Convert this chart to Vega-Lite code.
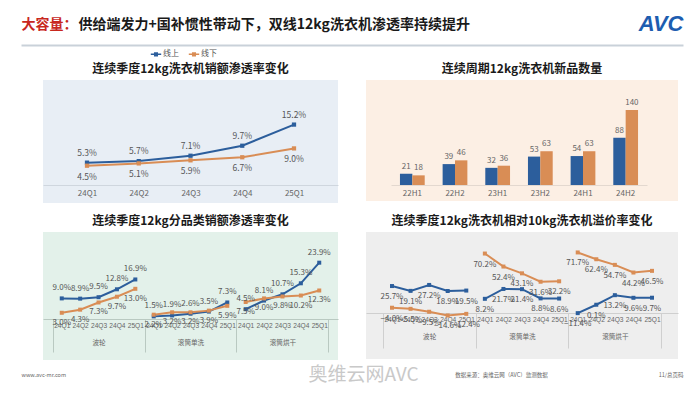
{
  "$schema": "https://vega.github.io/schema/vega-lite/v6.json",
  "background": "white",
  "padding": {"left": 18, "top": 12, "right": 5, "bottom": 2},
  "spacing": 5,
  "config": {
    "font": "Noto Sans CJK SC",
    "view": {"stroke": null},
    "axis": {"grid": false, "ticks": false, "labelColor": "#666666", "labelFontSize": 8, "domainColor": "#d3d7db", "title": null},
    "title": {"fontSize": 12, "fontWeight": "bold", "color": "#1a1a1a", "anchor": "middle", "frame": "group", "offset": 4},
    "legend": {"labelFontSize": 8, "labelColor": "#555555", "title": null, "orient": "none", "direction": "horizontal", "columnPadding": 10, "labelOffset": 3, "padding": 0}
  },
  "vconcat": [
    {
      "width": 640,
      "height": 10,
      "data": {"values": [{"v": 0}, {"v": 1}]},
      "mark": {"type": "point", "opacity": 0},
      "encoding": {
        "x": {
          "field": "v", "type": "quantitative",
          "scale": {"domain": [0, 1], "range": [-22, 640], "nice": false, "zero": false},
          "axis": {
            "orient": "top", "values": [1], "labelExpr": "'AVC'", "labelAlign": "right",
            "labelFontSize": 22, "labelFontWeight": "bold", "labelFontStyle": "italic", "labelFont": "Liberation Sans",
            "labelColor": "#1d5db0", "labelPadding": 10, "labelFlush": false,
            "domainColor": "#c9d1d9", "domainWidth": 2, "ticks": false,
            "title": "大容量：", "titleColor": "#c8281e", "titleFontSize": 14, "titleFontWeight": "bold",
            "titleX": -22, "titleY": -17, "titleAlign": "left", "titleBaseline": "alphabetic"
          }
        },
        "y": {
          "field": "v", "type": "quantitative",
          "axis": {
            "domain": false, "labels": false, "ticks": false,
            "title": "供给端发力+国补惯性带动下，双线12kg洗衣机渗透率持续提升",
            "titleAngle": 0, "titleX": 35, "titleY": -17, "titleAlign": "left", "titleBaseline": "alphabetic",
            "titleFontSize": 14, "titleFontWeight": "bold", "titleColor": "#1a1a1a"
          }
        }
      }
    },
    {
      "spacing": 12,
      "vconcat": [
        {
          "spacing": 28,
          "hconcat": [
            {
              "width": 295,
              "height": 123,
              "title": "连续季度12kg洗衣机销额渗透率变化",
              "view": {"fill": "#e8eef5"},
              "data": {"values": [
                {"q": "24Q1", "ch": "线上", "v": 0.053}, {"q": "24Q1", "ch": "线下", "v": 0.045},
                {"q": "24Q2", "ch": "线上", "v": 0.057}, {"q": "24Q2", "ch": "线下", "v": 0.051},
                {"q": "24Q3", "ch": "线上", "v": 0.071}, {"q": "24Q3", "ch": "线下", "v": 0.059},
                {"q": "24Q4", "ch": "线上", "v": 0.097}, {"q": "24Q4", "ch": "线下", "v": 0.067},
                {"q": "25Q1", "ch": "线上", "v": 0.152}, {"q": "25Q1", "ch": "线下", "v": 0.090}
              ]},
              "encoding": {
                "x": {"field": "q", "type": "nominal", "sort": null, "scale": {"type": "point", "padding": 0.85},
                      "axis": {"orient": "bottom", "offset": -18, "labelAngle": 0, "labelPadding": 4, "domainColor": "#cfd6de"}},
                "y": {"field": "v", "type": "quantitative", "scale": {"domain": [-0.052, 0.268], "nice": false, "zero": false}, "axis": null}
              },
              "layer": [
                {
                  "mark": {"type": "line", "strokeWidth": 2, "point": {"shape": "square", "size": 18, "filled": true}},
                  "encoding": {
                    "color": {"field": "ch", "type": "nominal", "scale": {"domain": ["线上", "线下"], "range": ["#2c5e9c", "#d98d55"]},
                      "legend": {"legendX": 108, "legendY": 4, "symbolType": "M-1.3,0H1.3M-0.32,-0.32H0.32V0.32H-0.32Z", "symbolSize": 64, "symbolStrokeWidth": 1.5,
                        "encode": {"symbols": {"update": {"fill": {"scale": "color", "field": "value"}}}}}}
                  }
                },
                {
                  "transform": [{"filter": "datum.ch === '线上'"}],
                  "mark": {"type": "text", "dy": -10, "fontSize": 8.5, "color": "#555555"},
                  "encoding": {"text": {"field": "v", "format": ".1%"}}
                },
                {
                  "transform": [{"filter": "datum.ch === '线下'"}],
                  "mark": {"type": "text", "dy": 11, "fontSize": 8.5, "color": "#555555"},
                  "encoding": {"text": {"field": "v", "format": ".1%"}}
                }
              ]
            },
            {
              "width": 312,
              "height": 121,
              "title": "连续周期12kg洗衣机新品数量",
              "view": {"fill": "#fcefe4"},
              "data": {"values": [
                {"p": "22H1", "ch": "线上", "n": 21}, {"p": "22H1", "ch": "线下", "n": 18},
                {"p": "22H2", "ch": "线上", "n": 39}, {"p": "22H2", "ch": "线下", "n": 46},
                {"p": "23H1", "ch": "线上", "n": 32}, {"p": "23H1", "ch": "线下", "n": 36},
                {"p": "23H2", "ch": "线上", "n": 53}, {"p": "23H2", "ch": "线下", "n": 63},
                {"p": "24H1", "ch": "线上", "n": 54}, {"p": "24H1", "ch": "线下", "n": 63},
                {"p": "24H2", "ch": "线上", "n": 88}, {"p": "24H2", "ch": "线下", "n": 140}
              ]},
              "encoding": {
                "x": {"field": "p", "type": "nominal", "sort": null,
                      "scale": {"range": [25, 281], "paddingInner": 0.42, "paddingOuter": 0.21},
                      "axis": {"orient": "bottom", "offset": -16, "labelAngle": 0, "labelPadding": 4, "domainColor": "#e3d8cf"}},
                "xOffset": {"field": "ch", "type": "nominal", "sort": ["线上", "线下"]},
                "y": {"field": "n", "type": "quantitative", "stack": null, "scale": {"domain": [-29.85, 195.9], "nice": false, "zero": false}, "axis": null}
              },
              "layer": [
                {
                  "mark": {"type": "bar"},
                  "encoding": {
                    "color": {"field": "ch", "type": "nominal", "scale": {"domain": ["线上", "线下"], "range": ["#2e6db5", "#ed7d31"]},
                      "legend": {"legendX": 120, "legendY": 1, "symbolType": "square", "symbolSize": 30, "columnPadding": 6, "labelOffset": 2}}
                  }
                },
                {
                  "mark": {"type": "text", "dy": -7, "fontSize": 8, "color": "#666666"},
                  "encoding": {"text": {"field": "n", "type": "quantitative"}}
                }
              ]
            }
          ]
        },
        {
          "spacing": 28,
          "hconcat": [
            {
              "width": 295,
              "height": 128,
              "title": "连续季度12kg分品类销额渗透率变化",
              "view": {"fill": "#e3f1ea"},
              "data": {"values": [
                {"k": "波轮|24Q1", "cat": "波轮", "ch": "线上", "v": 0.090}, {"k": "波轮|24Q1", "cat": "波轮", "ch": "线下", "v": 0.030},
                {"k": "波轮|24Q2", "cat": "波轮", "ch": "线上", "v": 0.089}, {"k": "波轮|24Q2", "cat": "波轮", "ch": "线下", "v": 0.043},
                {"k": "波轮|24Q3", "cat": "波轮", "ch": "线上", "v": 0.095}, {"k": "波轮|24Q3", "cat": "波轮", "ch": "线下", "v": 0.073},
                {"k": "波轮|24Q4", "cat": "波轮", "ch": "线上", "v": 0.128}, {"k": "波轮|24Q4", "cat": "波轮", "ch": "线下", "v": 0.097},
                {"k": "波轮|25Q1", "cat": "波轮", "ch": "线上", "v": 0.169}, {"k": "波轮|25Q1", "cat": "波轮", "ch": "线下", "v": 0.130},
                {"k": "滚筒单洗|24Q1", "cat": "滚筒单洗", "ch": "线上", "v": 0.015}, {"k": "滚筒单洗|24Q1", "cat": "滚筒单洗", "ch": "线下", "v": 0.022},
                {"k": "滚筒单洗|24Q2", "cat": "滚筒单洗", "ch": "线上", "v": 0.019}, {"k": "滚筒单洗|24Q2", "cat": "滚筒单洗", "ch": "线下", "v": 0.032},
                {"k": "滚筒单洗|24Q3", "cat": "滚筒单洗", "ch": "线上", "v": 0.026}, {"k": "滚筒单洗|24Q3", "cat": "滚筒单洗", "ch": "线下", "v": 0.032},
                {"k": "滚筒单洗|24Q4", "cat": "滚筒单洗", "ch": "线上", "v": 0.035}, {"k": "滚筒单洗|24Q4", "cat": "滚筒单洗", "ch": "线下", "v": 0.039},
                {"k": "滚筒单洗|25Q1", "cat": "滚筒单洗", "ch": "线上", "v": 0.073}, {"k": "滚筒单洗|25Q1", "cat": "滚筒单洗", "ch": "线下", "v": 0.059},
                {"k": "滚筒烘干|24Q1", "cat": "滚筒烘干", "ch": "线上", "v": 0.045}, {"k": "滚筒烘干|24Q1", "cat": "滚筒烘干", "ch": "线下", "v": 0.075},
                {"k": "滚筒烘干|24Q2", "cat": "滚筒烘干", "ch": "线上", "v": 0.081}, {"k": "滚筒烘干|24Q2", "cat": "滚筒烘干", "ch": "线下", "v": 0.090},
                {"k": "滚筒烘干|24Q3", "cat": "滚筒烘干", "ch": "线上", "v": 0.107}, {"k": "滚筒烘干|24Q3", "cat": "滚筒烘干", "ch": "线下", "v": 0.098},
                {"k": "滚筒烘干|24Q4", "cat": "滚筒烘干", "ch": "线上", "v": 0.153}, {"k": "滚筒烘干|24Q4", "cat": "滚筒烘干", "ch": "线下", "v": 0.102},
                {"k": "滚筒烘干|25Q1", "cat": "滚筒烘干", "ch": "线上", "v": 0.239}, {"k": "滚筒烘干|25Q1", "cat": "滚筒烘干", "ch": "线下", "v": 0.123}
              ]},
              "encoding": {
                "x": {"field": "k", "type": "nominal", "sort": null, "bandPosition": 0.5,
                      "scale": {"type": "band", "paddingInner": 0, "paddingOuter": 0.52},
                      "axis": {"orient": "bottom", "offset": -41, "labelAngle": 0, "labelPadding": -30, "labelFontSize": 6.6, "labelLineHeight": 17,
                        "labelFont": "Liberation Sans, Noto Sans CJK SC",
                        "labelExpr": "datum.value == null ? '' : (indexof(datum.value, '24Q3') >= 0 ? [split(datum.value, '|')[1], split(datum.value, '|')[0]] : split(datum.value, '|')[1])",
                        "ticks": true, "tickBand": "extent", "tickSize": 33, "tickWidth": 1,
                        "tickColor": {"condition": {"test": "datum.value == null || indexof(datum.value, '25Q1') >= 0", "value": "#b9c9c1"}, "value": "transparent"},
                        "domainColor": "#b9c9c1"}},
                "y": {"field": "v", "type": "quantitative", "scale": {"domain": [-0.167, 0.367], "nice": false, "zero": false}, "axis": null}
              },
              "layer": [
                {
                  "mark": {"type": "line", "strokeWidth": 2, "point": {"shape": "square", "size": 16, "filled": true}},
                  "encoding": {
                    "detail": {"field": "cat"},
                    "color": {"field": "ch", "type": "nominal", "scale": {"domain": ["线上", "线下"], "range": ["#2b5e97", "#d9944e"]},
                      "legend": {"legendX": 113, "legendY": 4, "symbolType": "M-1.3,0H1.3M-0.32,-0.32H0.32V0.32H-0.32Z", "symbolSize": 64, "symbolStrokeWidth": 1.5,
                        "encode": {"symbols": {"update": {"fill": {"scale": "color", "field": "value"}}}}}}
                  }
                },
                {
                  "transform": [{"filter": "datum.ch === '线上'"}],
                  "mark": {"type": "text", "dy": -10, "fontSize": 8, "color": "#555555"},
                  "encoding": {"text": {"field": "v", "format": ".1%"}}
                },
                {
                  "transform": [{"filter": "datum.ch === '线下'"}],
                  "mark": {"type": "text", "dy": 10, "fontSize": 8, "color": "#555555"},
                  "encoding": {"text": {"field": "v", "format": ".1%"}}
                }
              ]
            },
            {
              "width": 312,
              "height": 127,
              "title": "连续季度12kg洗衣机相对10kg洗衣机溢价率变化",
              "view": {"fill": "#eeeeee"},
              "data": {"values": [
                {"k": "波轮|24Q1", "cat": "波轮", "ch": "线上", "v": 0.257}, {"k": "波轮|24Q1", "cat": "波轮", "ch": "线下", "v": -0.040},
                {"k": "波轮|24Q2", "cat": "波轮", "ch": "线上", "v": 0.191}, {"k": "波轮|24Q2", "cat": "波轮", "ch": "线下", "v": -0.055},
                {"k": "波轮|24Q3", "cat": "波轮", "ch": "线上", "v": 0.272}, {"k": "波轮|24Q3", "cat": "波轮", "ch": "线下", "v": -0.095},
                {"k": "波轮|24Q4", "cat": "波轮", "ch": "线上", "v": 0.189}, {"k": "波轮|24Q4", "cat": "波轮", "ch": "线下", "v": -0.146},
                {"k": "波轮|25Q1", "cat": "波轮", "ch": "线上", "v": 0.195}, {"k": "波轮|25Q1", "cat": "波轮", "ch": "线下", "v": -0.124},
                {"k": "滚筒单洗|24Q1", "cat": "滚筒单洗", "ch": "线上", "v": 0.082}, {"k": "滚筒单洗|24Q1", "cat": "滚筒单洗", "ch": "线下", "v": 0.702},
                {"k": "滚筒单洗|24Q2", "cat": "滚筒单洗", "ch": "线上", "v": 0.217}, {"k": "滚筒单洗|24Q2", "cat": "滚筒单洗", "ch": "线下", "v": 0.524},
                {"k": "滚筒单洗|24Q3", "cat": "滚筒单洗", "ch": "线上", "v": 0.214}, {"k": "滚筒单洗|24Q3", "cat": "滚筒单洗", "ch": "线下", "v": 0.431},
                {"k": "滚筒单洗|24Q4", "cat": "滚筒单洗", "ch": "线上", "v": 0.088}, {"k": "滚筒单洗|24Q4", "cat": "滚筒单洗", "ch": "线下", "v": 0.316},
                {"k": "滚筒单洗|25Q1", "cat": "滚筒单洗", "ch": "线上", "v": 0.086}, {"k": "滚筒单洗|25Q1", "cat": "滚筒单洗", "ch": "线下", "v": 0.322},
                {"k": "滚筒烘干|24Q1", "cat": "滚筒烘干", "ch": "线上", "v": -0.114}, {"k": "滚筒烘干|24Q1", "cat": "滚筒烘干", "ch": "线下", "v": 0.717},
                {"k": "滚筒烘干|24Q2", "cat": "滚筒烘干", "ch": "线上", "v": 0.001}, {"k": "滚筒烘干|24Q2", "cat": "滚筒烘干", "ch": "线下", "v": 0.624},
                {"k": "滚筒烘干|24Q3", "cat": "滚筒烘干", "ch": "线上", "v": 0.132}, {"k": "滚筒烘干|24Q3", "cat": "滚筒烘干", "ch": "线下", "v": 0.547},
                {"k": "滚筒烘干|24Q4", "cat": "滚筒烘干", "ch": "线上", "v": 0.096}, {"k": "滚筒烘干|24Q4", "cat": "滚筒烘干", "ch": "线下", "v": 0.442},
                {"k": "滚筒烘干|25Q1", "cat": "滚筒烘干", "ch": "线上", "v": 0.097}, {"k": "滚筒烘干|25Q1", "cat": "滚筒烘干", "ch": "线下", "v": 0.465}
              ]},
              "encoding": {
                "x": {"field": "k", "type": "nominal", "sort": null, "bandPosition": 0.5,
                      "scale": {"type": "band", "paddingInner": 0, "paddingOuter": 0.9},
                      "axis": {"orient": "bottom", "offset": -46, "labelAngle": 0, "labelPadding": -32, "labelFontSize": 6.6, "labelLineHeight": 17,
                        "labelFont": "Liberation Sans, Noto Sans CJK SC",
                        "labelExpr": "datum.value == null ? '' : (indexof(datum.value, '24Q3') >= 0 ? [split(datum.value, '|')[1], split(datum.value, '|')[0]] : split(datum.value, '|')[1])",
                        "ticks": true, "tickBand": "extent", "tickSize": 35, "tickWidth": 1,
                        "tickColor": {"condition": {"test": "datum.value == null || indexof(datum.value, '25Q1') >= 0", "value": "#cfcfcf"}, "value": "transparent"},
                        "domainColor": "#cfcfcf"}},
                "y": {"field": "v", "type": "quantitative", "scale": {"domain": [-0.742, 0.997], "nice": false, "zero": false}, "axis": null}
              },
              "layer": [
                {
                  "mark": {"type": "line", "strokeWidth": 2, "point": {"shape": "square", "size": 16, "filled": true}},
                  "encoding": {
                    "detail": {"field": "cat"},
                    "color": {"field": "ch", "type": "nominal", "scale": {"domain": ["线上", "线下"], "range": ["#2f69a8", "#e0925a"]},
                      "legend": {"legendX": 122, "legendY": 4, "symbolType": "M-1.3,0H1.3M-0.32,-0.32H0.32V0.32H-0.32Z", "symbolSize": 64, "symbolStrokeWidth": 1.5,
                        "encode": {"symbols": {"update": {"fill": {"scale": "color", "field": "value"}}}}}}
                  }
                },
                {
                  "mark": {"type": "text", "dy": 11, "fontSize": 8, "color": "#555555"},
                  "encoding": {"text": {"field": "v", "format": ".1%"}}
                }
              ]
            }
          ]
        }
      ]
    },
    {
      "width": 640,
      "height": 1,
      "data": {"values": [{"v": 0}, {"v": 1}]},
      "mark": {"type": "point", "opacity": 0},
      "encoding": {
        "x": {
          "field": "v", "type": "quantitative",
          "scale": {"domain": [0, 1], "range": [-22, 640], "nice": false, "zero": false},
          "axis": {
            "orient": "bottom", "domain": false, "ticks": false, "values": [0, 0.5166, 0.7251, 1],
            "labelExpr": "datum.value == 0 ? 'www.avc-mr.com' : (datum.value == 1 ? '11/总页码' : (datum.value < 0.6 ? '奥维云网AVC' : '数据来源：奥维云网（AVC）监测数据'))",
            "labelFlush": true, "labelOverlap": false, "labelPadding": 2, "labelBaseline": "middle",
            "labelFontSize": {"condition": {"test": "datum.value > 0.5 && datum.value < 0.6", "value": 19}, "value": 5.5},
            "labelColor": {"condition": {"test": "datum.value > 0.5 && datum.value < 0.6", "value": "#c9c9c9"}, "value": "#666666"}
          }
        }
      }
    }
  ]
}
